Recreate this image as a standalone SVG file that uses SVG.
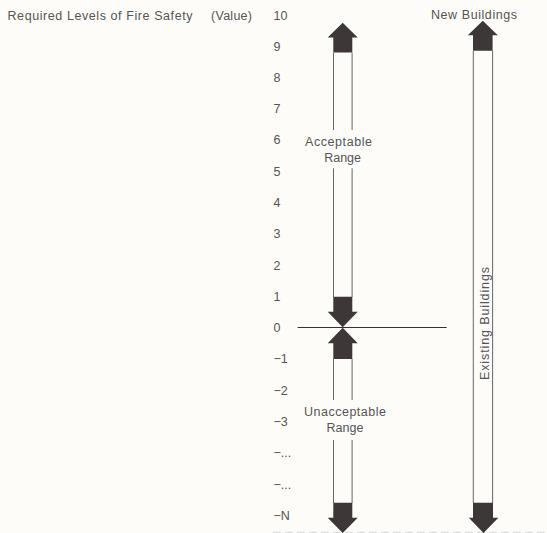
<svg xmlns="http://www.w3.org/2000/svg" width="547" height="533" viewBox="0 0 547 533">
<style>
text{font-family:"Liberation Sans",Arial,sans-serif;font-size:12.5px;fill:#555;}
.num{font-size:12.5px;}
.mid{text-anchor:middle;}
.shaft{stroke:#666;stroke-width:1;fill:none;}
.head{fill:#3d3737;}
.axis{stroke:#333;stroke-width:1.1;fill:none;}
</style>
<rect x="0" y="0" width="547" height="533" fill="#fdfcf9"/>

<g id="title">
<text x="7.5" y="19.5" textLength="185" lengthAdjust="spacing">Required Levels of Fire Safety</text>
<text x="211" y="19.5" textLength="41" lengthAdjust="spacing">(Value)</text>
</g>

<g id="scale" class="num">
<text x="273.5" y="19.5">10</text>
<text x="273.5" y="50.5">9</text>
<text x="273.5" y="81.7">8</text>
<text x="273.5" y="112.9">7</text>
<text x="273.5" y="144.2">6</text>
<text x="273.5" y="175.5">5</text>
<text x="273.5" y="206.8">4</text>
<text x="273.5" y="238.1">3</text>
<text x="273.5" y="269.6">2</text>
<text x="273.5" y="300.9">1</text>
<text x="273.5" y="332">0</text>
<text x="273.5" y="363.3">−1</text>
<text x="273.5" y="394.6">−2</text>
<text x="273.5" y="425.9">−3</text>
<text x="273.5" y="457.2">−...</text>
<text x="273.5" y="488.5">−...</text>
<text x="273.5" y="520">−N</text>
</g>

<g id="connectors">
<line class="axis" x1="297.7" y1="327.5" x2="446.7" y2="327.5"/>
<line x1="273" y1="532.3" x2="547" y2="532.3" stroke="#dcdcdc" stroke-width="1.2" stroke-dasharray="8,4"/>
</g>

<g id="acceptable-range">
<path class="head" d="M342.7,22.7 L357.7,37.4 L352.3,37.4 L352.3,52.6 L333.3,52.6 L333.3,37.4 L327.7,37.4 Z"/>
<line class="shaft" x1="333.5" y1="52.6" x2="333.5" y2="130"/>
<line class="shaft" x1="352.1" y1="52.6" x2="352.1" y2="130"/>
<line class="shaft" x1="333.5" y1="168.3" x2="333.5" y2="297"/>
<line class="shaft" x1="352.1" y1="168.3" x2="352.1" y2="297"/>
<path class="head" d="M333.3,296.7 L352.3,296.7 L352.3,311.7 L357.7,311.7 L342.7,327.3 L327.7,311.7 L333.3,311.7 Z"/>
<text x="305" y="146" textLength="67" lengthAdjust="spacing">Acceptable</text>
<text class="mid" x="342.6" y="161.5">Range</text>
</g>

<g id="unacceptable-range">
<path class="head" d="M342.7,327.7 L357.7,343.3 L352.3,343.3 L352.3,359 L333.3,359 L333.3,343.3 L327.7,343.3 Z"/>
<line class="shaft" x1="333.5" y1="359" x2="333.5" y2="400"/>
<line class="shaft" x1="352.1" y1="359" x2="352.1" y2="400"/>
<line class="shaft" x1="333.5" y1="440" x2="333.5" y2="503"/>
<line class="shaft" x1="352.1" y1="440" x2="352.1" y2="503"/>
<path class="head" d="M333.3,502.7 L352.3,502.7 L352.3,517.7 L357.7,517.7 L342.7,533 L327.7,517.7 L333.3,517.7 Z"/>
<text x="304" y="416.3" textLength="82" lengthAdjust="spacing">Unacceptable</text>
<text class="mid" x="345" y="431.7">Range</text>
</g>

<g id="new-buildings">
<text x="431" y="19" textLength="86" lengthAdjust="spacing">New Buildings</text>
<path class="head" d="M482.8,20.8 L497.8,35.2 L492.6,35.2 L492.6,50.7 L473,50.7 L473,35.2 L467.8,35.2 Z"/>
<line class="shaft" x1="473.3" y1="50.7" x2="473.3" y2="503"/>
<line class="shaft" x1="492.6" y1="50.7" x2="492.6" y2="503"/>
</g>

<g id="existing-buildings">
<text transform="translate(489,380) rotate(-90)" textLength="113" lengthAdjust="spacing">Existing  Buildings</text>
<path class="head" d="M473,502.7 L493,502.7 L493,517.7 L498.3,517.7 L483.5,533 L468.8,517.7 L473,517.7 Z"/>
</g>
</svg>
